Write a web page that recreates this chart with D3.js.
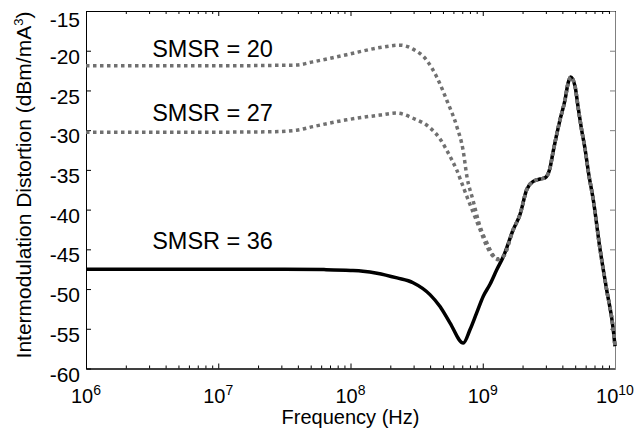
<!DOCTYPE html>
<html>
<head>
<meta charset="utf-8">
<script src="https://cdn.jsdelivr.net/npm/d3@7"></script>
<style>
  body { margin: 0; background: #fff; }
  svg { display: block; font-family: "Liberation Sans", Arial, sans-serif; }
</style>
</head>
<body>
<div id="chart"></div>
<script>
// frequency given as log10(Hz), IMD in dBm/mA^3
const logF36 = [6, 7, 7.5, 7.8, 8.0, 8.094, 8.2, 8.352, 8.473, 8.601, 8.677, 8.752, 8.853, 8.904, 8.954, 9.004, 9.055, 9.105];
const imd36 = [-47.5, -47.5, -47.5, -47.55, -47.65, -47.75, -48.0, -48.6, -49.2, -50.7, -52.2, -54.25, -56.8, -55.1, -53.0, -50.9, -49.4, -47.6];

const logF27 = [6, 7, 7.4, 7.593, 7.716, 7.971, 8.223, 8.35, 8.473, 8.601, 8.677, 8.727, 8.765, 8.803, 8.841, 8.879, 8.929, 8.979, 9.03, 9.08, 9.11];
const imd27 = [-30.25, -30.25, -30.2, -30.0, -29.55, -28.7, -28.1, -27.85, -28.5, -29.7, -31.1, -32.5, -33.7, -35.0, -36.65, -38.3, -40.4, -42.5, -44.6, -45.9, -46.2];

const logF20 = [6, 7, 7.4, 7.593, 7.716, 7.971, 8.223, 8.374, 8.473, 8.576, 8.652, 8.727, 8.803, 8.851, 8.881, 8.926, 8.979, 9.032, 9.09, 9.115];
const imd20 = [-21.9, -21.9, -21.85, -21.8, -21.4, -20.5, -19.6, -19.3, -19.8, -21.2, -23.3, -26.2, -29.5, -32.5, -35.9, -38.8, -42.1, -44.2, -46.0, -46.3];

// common high-frequency part, all three curves coincide here
const logFTail = [9.156, 9.231, 9.282, 9.332, 9.382, 9.433, 9.471, 9.508, 9.531, 9.584, 9.622, 9.645, 9.665, 9.698, 9.72, 9.748, 9.773, 9.8, 9.836, 9.887, 9.937, 9.987, 10];
const imdTail = [-45.9, -42.5, -40.6, -37.5, -36.45, -36.15, -36.0, -34.8, -32.8, -28.7, -26.2, -24.1, -23.3, -24.5, -27.0, -30.0, -32.3, -35.4, -38.8, -45.0, -50.1, -55.1, -57.2];

const seriesNames = ["SMSR = 36", "SMSR = 27", "SMSR = 20"];
const yTicks = [-60, -55, -50, -45, -40, -35, -30, -25, -20, -15];
const xDecades = [6, 7, 8, 9, 10];

const width = 642, height = 439;
const x = d3.scaleLog().domain([1e6, 1e10]).range([86, 615]);
const y = d3.scaleLinear().domain([-60, -15]).range([368.5, 11]);

const svg = d3.select("#chart").append("svg")
  .attr("width", width).attr("height", height);

const toPts = (lf, v) => lf.map((d, i) => [d, v[i]]);
const series = [
  { name: seriesNames[0], pts: toPts(logF36, imd36).concat(toPts(logFTail, imdTail)) },
  { name: seriesNames[1], pts: toPts(logF27, imd27).concat(toPts(logFTail, imdTail)) },
  { name: seriesNames[2], pts: toPts(logF20, imd20).concat(toPts(logFTail, imdTail)) }
];

const majorX = xDecades.map(e => 10 ** e);
const minorX = [];
for (let e = 6; e < 10; e++) for (let m = 2; m <= 9; m++) minorX.push(m * 10 ** e);

function styleAxis(g, color) {
  g.select(".domain").attr("stroke", color).attr("stroke-width", 1);
  g.selectAll(".tick line").attr("stroke", color);
}

// bottom / top axes
svg.append("g").attr("transform", `translate(0,${y(-60)})`)
  .call(d3.axisBottom(x).tickValues(minorX).tickSize(-3).tickSizeOuter(0).tickFormat(""))
  .call(g => styleAxis(g, "#000"));
svg.append("g").attr("transform", `translate(0,${y(-60)})`)
  .call(d3.axisBottom(x).tickValues(majorX).tickSize(-5).tickSizeOuter(0).tickFormat(""))
  .call(g => styleAxis(g, "#000"));
svg.append("g").attr("transform", `translate(0,${y(-15)})`)
  .call(d3.axisTop(x).tickValues(minorX).tickSize(-3).tickSizeOuter(0).tickFormat(""))
  .call(g => styleAxis(g, "#000"));
svg.append("g").attr("transform", `translate(0,${y(-15)})`)
  .call(d3.axisTop(x).tickValues(majorX).tickSize(-5).tickSizeOuter(0).tickFormat(""))
  .call(g => styleAxis(g, "#000"));

// left / right axes
svg.append("g").attr("transform", `translate(${x(1e6)},0)`)
  .call(d3.axisLeft(y).tickValues(yTicks).tickSize(-5).tickSizeOuter(0).tickPadding(6)
    .tickFormat(d => String(d)))
  .call(g => styleAxis(g, "#000"))
  .call(g => g.selectAll(".tick text")
    .attr("font-size", 21).attr("font-family", null).attr("fill", "#000")
    .attr("dy", d => d === -15 ? 15.7 : 12.6));
svg.append("g").attr("transform", `translate(${x(1e10)},0)`)
  .call(d3.axisRight(y).tickValues(yTicks).tickSize(-5).tickSizeOuter(0).tickFormat(""))
  .call(g => styleAxis(g, "#808080"));

// decade labels with superscript exponents
const xl = svg.append("g").attr("font-size", 20).attr("text-anchor", "middle")
  .selectAll("text").data(xDecades).join("text")
  .attr("x", d => x(10 ** d)).attr("y", 403);
xl.append("tspan").text("10");
xl.append("tspan").attr("dy", -8).attr("font-size", 14).text(d => d);

svg.append("text")
  .attr("x", (x(1e6) + x(1e10)) / 2).attr("y", 424)
  .attr("text-anchor", "middle").attr("font-size", 20)
  .text("Frequency (Hz)");

const yt = svg.append("text")
  .attr("transform", `translate(31,${185}) rotate(-90)`)
  .attr("text-anchor", "middle").attr("font-size", 21);
yt.append("tspan").text("Intermodulation Distortion (dBm/mA");
yt.append("tspan").attr("dy", -8).attr("font-size", 13).text("3");
yt.append("tspan").attr("dy", 8).text(")");

// curves
const line = d3.line()
  .x(d => x(10 ** d[0]))
  .y(d => y(d[1]))
  .curve(d3.curveMonotoneX);

svg.append("path").datum(series[0].pts)
  .attr("fill", "none").attr("stroke", "#000").attr("stroke-width", 3.5)
  .attr("stroke-linejoin", "round").attr("d", line);

svg.selectAll(".dotted").data(series.slice(1)).join("path")
  .attr("class", "dotted")
  .attr("fill", "none").attr("stroke", "#707070").attr("stroke-width", 3.5)
  .attr("stroke-dasharray", "3.5,3.5")
  .attr("d", d => line(d.pts));

// series labels
const labelPos = [[6.5, -44.9], [6.5, -28.83], [6.5, -20.78]];
svg.append("g").attr("font-size", 23.5)
  .selectAll("text").data(series).join("text")
  .attr("x", (d, i) => x(10 ** labelPos[i][0]))
  .attr("y", (d, i) => y(labelPos[i][1]))
  .text(d => d.name);
</script>
</body>
</html>
